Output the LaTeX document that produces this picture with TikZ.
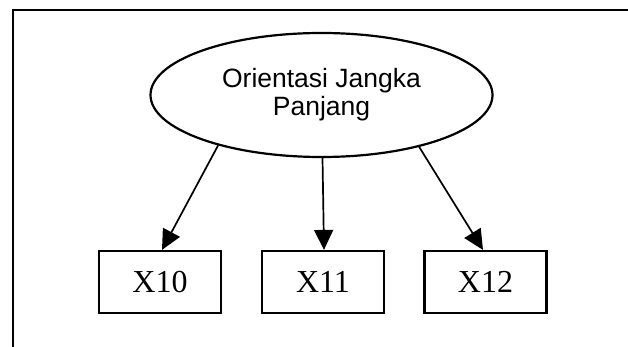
\documentclass[tikz,border=0pt]{standalone}
\usepackage{fontspec}
\setmainfont{Liberation Serif}
\setsansfont{Liberation Sans}
\usetikzlibrary{shapes.geometric,arrows.meta}
\begin{document}
\begin{tikzpicture}[x=1pt,y=-1pt,
  oval/.style={draw,line width=2.2pt,ellipse,minimum width=342pt,minimum height=124pt,inner sep=0pt,
    font=\sffamily\fontsize{26.5}{28}\selectfont,align=center},
  itembox/.style={draw,line width=2.2pt,minimum width=122pt,minimum height=62pt,inner sep=0pt,
    font=\rmfamily\fontsize{32}{34}\selectfont},
  link/.style={line width=1.7pt,-{Triangle[length=20pt,width=19pt]}}]
\useasboundingbox[fill=white] (0,0) rectangle (628,347);
\draw[line width=1.8pt] (13,347) -- (13,10) -- (628,10);
\node[oval] (e) at (321.5,95) {Orientasi Jangka\\Panjang};
\node[itembox] (x10) at (160,282) {X10};
\node[itembox] (x11) at (323,282) {X11};
\node[itembox] (x12) at (485.5,282) {X12};
\draw[link] (e.206) -- ([xshift=2pt]x10.north);
\draw[link] ([xshift=1pt]e.south) -- ([xshift=1pt]x11.north);
\draw[link] (e.332) -- ([xshift=-2.5pt]x12.north);
\end{tikzpicture}
\end{document}
